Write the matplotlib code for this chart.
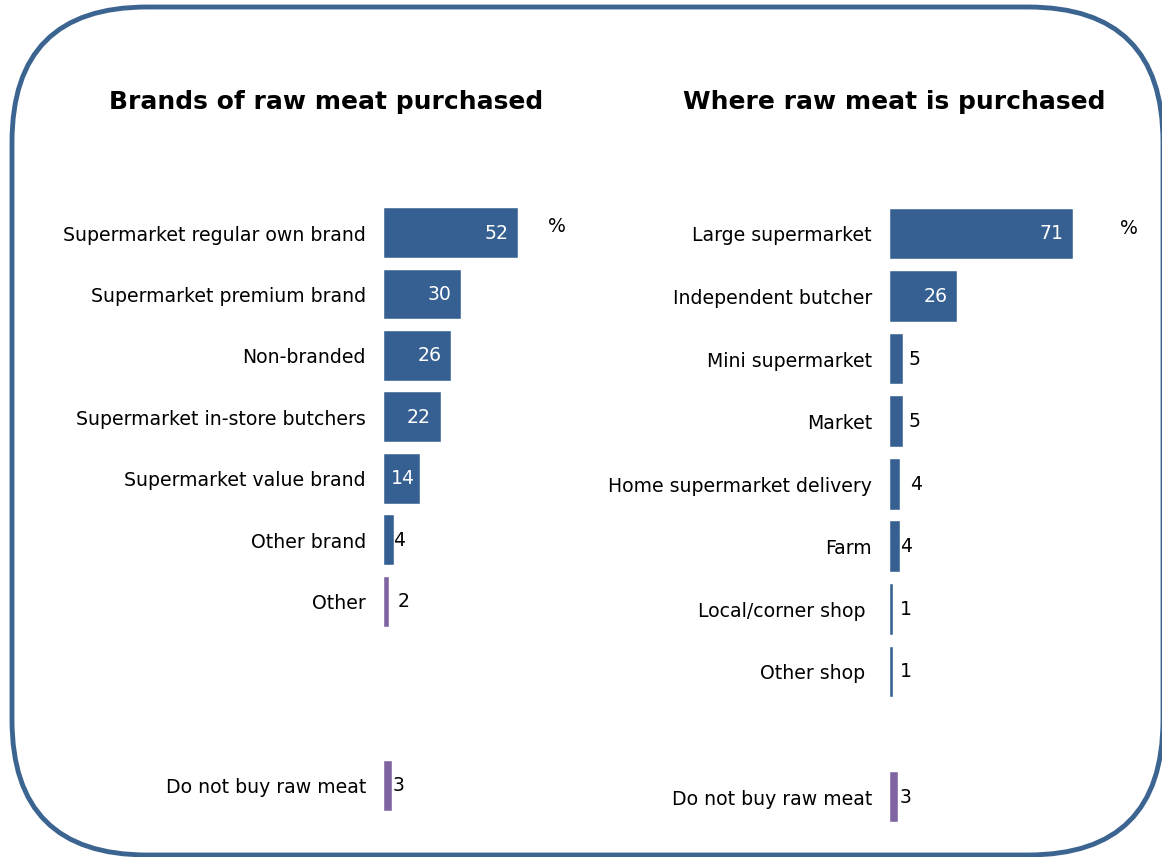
import matplotlib.pyplot as plt
from matplotlib.patches import FancyBboxPatch

# Brands of raw meat purchased
brand_labels = ['Supermarket regular own brand', 'Supermarket premium brand', 'Non-branded',
                'Supermarket in-store butchers', 'Supermarket value brand', 'Other brand',
                'Other', 'Do not buy raw meat']
brand_values = [52, 30, 26, 22, 14, 4, 2, 3]
brand_rows = [0, 1, 2, 3, 4, 5, 6, 9]

# Where raw meat is purchased
shop_labels = ['Large supermarket', 'Independent butcher', 'Mini supermarket', 'Market',
               'Home supermarket delivery', 'Farm', 'Local/corner shop', 'Other shop',
               'Do not buy raw meat']
shop_values = [71, 26, 5, 5, 4, 4, 1, 1, 3]
shop_rows = [0, 1, 2, 3, 4, 5, 6, 7, 9]

BLUE = '#376092'
PURPLE = '#8064A2'
EDGE = '#3C6491'
brand_colors = [BLUE] * 6 + [PURPLE, PURPLE]
shop_colors = [BLUE] * 8 + [PURPLE]

plt.rcParams['font.family'] = ['DejaVu Sans']
FS = 13.6

W, H = 1162, 857
fig = plt.figure(figsize=(W / 100, H / 100), dpi=100)

# rounded frame around both panels (drawn in pixel space)
bg = fig.add_axes([0, 0, 1, 1])
bg.set_xlim(0, W)
bg.set_ylim(H, 0)
bg.axis('off')
bg.add_patch(FancyBboxPatch((12, 7), 1151, 848, boxstyle='round,pad=0,rounding_size=135',
                            fill=False, edgecolor=EDGE, linewidth=3.5, clip_on=False))

PX = 2.58  # pixels per percentage point


def panel(x0, top_px, bottom_px, xmax, labels, values, rows, colors, offsets, pads):
    ax = fig.add_axes([x0 / W, 1 - bottom_px / H, xmax * PX / W, (bottom_px - top_px) / H])
    ax.barh(rows, values, height=0.81, color=colors, edgecolor='white', linewidth=0.3)
    ax.set_xlim(0, xmax)
    ax.set_ylim(9.5, -0.5)
    ax.set_yticks(rows)
    ax.set_yticklabels(labels, fontsize=FS)
    ax.tick_params(axis='y', length=0)
    for tick, pad in zip(ax.yaxis.get_major_ticks(), pads):
        tick.set_pad(pad)
        tick.label1.set_y(tick.label1.get_position()[1])
    ax.set_xticks([])
    for s in ax.spines.values():
        s.set_visible(False)
    ax.patch.set_alpha(0)
    # negative offset -> label sits inside the bar end, otherwise just after it
    for r, v, off in zip(rows, values, offsets):
        if off < -3:
            ax.annotate(str(v), (v, r), xytext=(off, 0), textcoords='offset points',
                        ha='right', va='center', color='white', fontsize=FS)
        else:
            ax.annotate(str(v), (v, r), xytext=(off, 0), textcoords='offset points',
                        ha='left', va='center', color='black', fontsize=FS)
    return ax


panel(384, 202.3, 816.7, 70, brand_labels, brand_values, brand_rows, brand_colors,
      [-7, -7, -7, -7, -4, -1, 6, 0.5], [13] * 8)
panel(890, 202.7, 828.3, 100, shop_labels, shop_values, shop_rows, shop_colors,
      [-7, -7, 4, 4, 7, 0, 5, 5, 1], [13] * 6 + [18, 18, 13])

fig.text(326 / W, 1 - 102 / H, 'Brands of raw meat purchased', ha='center', va='center',
         fontsize=18, fontweight='bold')
fig.text(894 / W, 1 - 102 / H, 'Where raw meat is purchased', ha='center', va='center',
         fontsize=18, fontweight='bold')
fig.text(557 / W, 1 - 227 / H, '%', ha='center', va='center', fontsize=FS)
fig.text(1129 / W, 1 - 229 / H, '%', ha='center', va='center', fontsize=FS)

fig.savefig('out.png', dpi=100)
